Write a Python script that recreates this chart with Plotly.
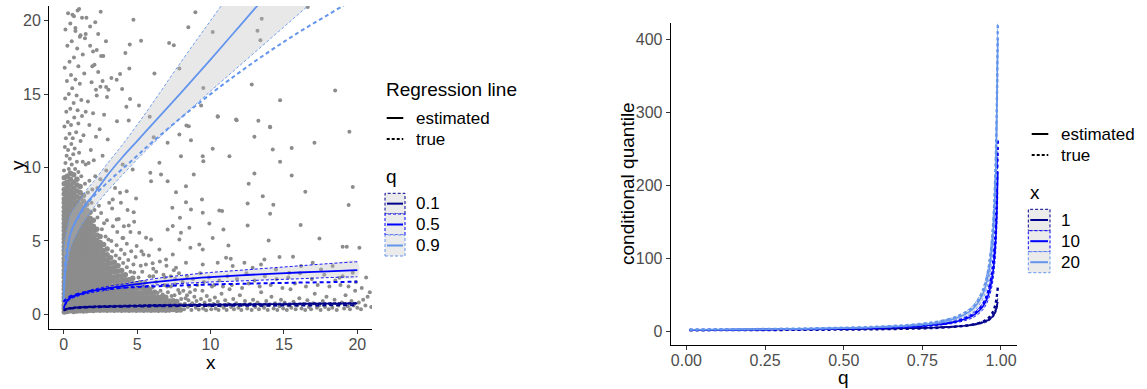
import plotly.graph_objects as go

W, H = 1147, 389
FONT = "Liberation Sans, Arial, sans-serif"
NAVY, BLUE, CORN = "#00008B", "#0000FF", "#6495ED"
BAND_FILL = "rgba(190,190,190,0.35)"
POINT_COLOR = "#8C8C8C"

# ---------------- left panel: data cloud ----------------
# dense part of the cloud, one column of y values per x position
point_columns = [
    (0.04, [0.15,0.4,0.62,0.9,1.15,1.4,1.7,1.95,2.2,2.5,2.75,3.0,3.3,3.55,3.8,4.1,4.35,4.6,4.9,5.15,5.4,5.7,5.95,6.2,6.5,6.75,7.0,7.3,7.6,7.85,8.2,8.5,8.9,9.3]),
    (0.24, [0.2,0.45,0.7,0.95,1.2,1.5,1.75,2.0,2.3,2.55,2.8,3.1,3.35,3.6,3.9,4.15,4.4,4.7,4.95,5.2,5.5,5.75,6.0,6.3,6.55,6.8,7.1,7.4,7.7,8.0,8.3,8.65,9.0,9.4]),
    (0.46, [0.25,0.5,0.78,1.05,1.3,1.55,1.85,2.1,2.4,2.65,2.9,3.2,3.45,3.7,4.0,4.25,4.5,4.8,5.05,5.3,5.6,5.85,6.1,6.4,6.65,6.9,7.2,7.5,7.8,8.1,8.45,8.8,9.2,9.6]),
    (0.68, [0.2,0.48,0.75,1.0,1.25,1.5,1.8,2.05,2.35,2.6,2.85,3.15,3.4,3.65,3.95,4.2,4.45,4.75,5.0,5.25,5.55,5.8,6.05,6.35,6.6,6.9,7.2,7.55,7.9,8.25,8.6,9.0,9.5]),
    (0.90, [0.22,0.5,0.78,1.02,1.3,1.55,1.82,2.1,2.38,2.62,2.9,3.18,3.42,3.7,3.98,4.22,4.5,4.78,5.02,5.3,5.58,5.85,6.12,6.4,6.7,7.0,7.3,7.65,8.0,8.4,8.8,9.2]),
    (1.12, [0.25,0.52,0.8,1.05,1.32,1.6,1.88,2.15,2.42,2.7,2.95,3.22,3.5,3.78,4.05,4.32,4.6,4.88,5.15,5.42,5.7,5.98,6.25,6.55,6.85,7.15,7.5,7.9,8.3,8.7]),
    (1.35, [0.22,0.5,0.78,1.05,1.32,1.6,1.88,2.15,2.42,2.7,2.98,3.25,3.52,3.8,4.08,4.35,4.62,4.9,5.18,5.45,5.72,6.0,6.3,6.6,6.95,7.3,7.7,8.1]),
    (1.57, [0.25,0.52,0.8,1.08,1.35,1.62,1.9,2.18,2.45,2.72,3.0,3.28,3.55,3.82,4.1,4.38,4.65,4.92,5.2,5.48,5.78,6.1,6.4,6.75,7.1,7.5]),
    (1.80, [0.28,0.55,0.82,1.1,1.38,1.65,1.92,2.2,2.48,2.75,3.02,3.3,3.58,3.85,4.12,4.4,4.68,4.95,5.25,5.55,5.85,6.2,6.55,6.95]),
    (2.02, [0.26,0.55,0.82,1.1,1.38,1.65,1.92,2.2,2.48,2.75,3.02,3.3,3.58,3.85,4.12,4.4,4.7,5.0,5.3,5.65,6.0,6.4]),
    (2.25, [0.3,0.58,0.85,1.12,1.4,1.68,1.95,2.22,2.5,2.78,3.05,3.32,3.6,3.88,4.15,4.45,4.75,5.05,5.4,5.8]),
    (2.48, [0.28,0.55,0.82,1.1,1.38,1.65,1.92,2.2,2.48,2.75,3.02,3.3,3.6,3.9,4.2,4.55,4.9,5.3]),
    (2.72, [0.3,0.58,0.85,1.12,1.4,1.68,1.95,2.22,2.5,2.78,3.08,3.38,3.7,4.0,4.35,4.75]),
    (2.96, [0.28,0.55,0.82,1.1,1.38,1.65,1.92,2.2,2.48,2.78,3.08,3.4,3.72,4.05,4.45]),
    (3.20, [0.3,0.58,0.85,1.12,1.4,1.68,1.95,2.25,2.55,2.85,3.15,3.5,3.85]),
    (3.45, [0.28,0.55,0.82,1.1,1.38,1.65,1.95,2.25,2.55,2.88,3.2,3.55]),
    (3.70, [0.3,0.58,0.85,1.12,1.4,1.7,2.0,2.3,2.62,2.95,3.3]),
    (3.95, [0.28,0.55,0.82,1.1,1.38,1.68,1.98,2.3,2.62,2.98]),
    (4.20, [0.3,0.58,0.85,1.12,1.42,1.72,2.02,2.35,2.7]),
    (4.45, [0.28,0.55,0.82,1.1,1.4,1.7,2.02,2.36]),
    (4.70, [0.3,0.58,0.85,1.14,1.44,1.75,2.08,2.45]),
    (4.95, [0.28,0.55,0.84,1.12,1.42,1.74,2.08]),
    (5.20, [0.3,0.58,0.86,1.15,1.46,1.8,2.15]),
    (5.45, [0.28,0.56,0.84,1.12,1.42,1.75]),
    (5.70, [0.3,0.58,0.86,1.15,1.48,1.82]),
    (5.95, [0.28,0.56,0.84,1.14,1.45]),
    (6.20, [0.3,0.58,0.87,1.17,1.5]),
    (6.45, [0.28,0.56,0.85,1.15]),
    (6.70, [0.3,0.6,0.9,1.2]),
    (6.95, [0.28,0.57,0.86,1.17]),
    (7.20, [0.3,0.6,0.9]),
    (7.45, [0.32,0.62,0.92]),
    (7.70, [0.28,0.58,0.88]),
    (7.95, [0.3,0.62]),
]

# scattered observations outside the dense core
loose_points = [
    # upper tail near x = 0
    (0.02,9.8),(0.12,10.3),(0.35,9.9),(0.55,10.2),(0.78,9.9),(1.0,9.7),(0.2,10.8),(0.42,10.6),(0.65,10.9),(0.9,10.4),
    (1.2,9.4),(1.45,8.9),(0.08,11.4),(0.3,11.2),(0.52,11.6),(0.75,11.3),(1.05,11.0),(1.3,10.4),(0.15,12.0),(0.4,12.3),
    (0.62,12.0),(0.85,12.4),(1.15,11.8),(1.5,10.2),(0.05,12.8),(0.28,13.1),(0.5,12.9),(0.72,13.4),(1.0,13.0),(1.35,12.2),
    (0.18,13.8),(0.45,14.0),(0.68,14.4),(0.95,13.9),(1.25,13.5),(0.1,14.7),(0.35,15.0),(0.58,15.4),(0.88,14.9),(1.2,14.6),
    (1.5,13.8),(0.22,15.9),(0.5,16.3),(0.8,16.0),(1.1,15.7),(0.07,16.8),(0.4,17.2),(0.7,17.5),(1.0,16.9),(1.4,16.4),
    (0.25,18.3),(0.55,18.6),(0.92,18.1),(1.3,17.7),(0.12,19.4),(0.45,19.8),(0.8,19.3),(1.15,19.0),(0.3,20.5),(0.7,20.3),
    (1.05,20.8),(1.45,18.8),(1.55,20.2),(0.6,20.4),(0.95,20.7),(1.25,20.2),(1.1,18.9),(0.8,19.5),(1.5,19.1),
    # x between 1.6 and 3.2
    (1.65,8.3),(1.9,7.6),(1.75,9.1),(2.1,7.1),(2.3,6.6),(1.95,8.5),(2.4,7.4),(2.6,5.8),(2.15,9.4),(1.7,10.3),
    (2.55,6.9),(2.85,5.3),(3.05,5.1),(2.75,6.2),(1.85,11.2),(2.05,10.5),(2.3,8.6),(2.95,6.4),(2.5,9.2),(2.2,12.1),
    (1.75,12.9),(2.65,10.8),(3.1,7.6),(2.0,13.7),(2.45,12.6),(2.9,9.8),(1.65,14.5),(2.25,14.9),(2.75,13.6),(3.0,11.9),
    (1.9,15.8),(2.5,15.5),(2.95,14.8),(2.1,17.0),(2.55,17.6),(2.88,18.6),(2.35,19.1),(2.52,20.6),(1.8,18.3),(2.15,19.9),
    (1.8,19.6),(2.25,18.0),(2.0,17.9),(2.7,17.6),(2.35,16.5),(1.95,16.9),(2.65,15.9),(2.2,15.3),(2.89,15.49),(3.05,15.3),
    # x between 3.2 and 5
    (3.3,4.3),(3.55,4.0),(3.8,3.8),(4.05,3.5),(4.3,3.2),(4.55,2.9),(4.8,2.85),(3.25,5.0),(3.6,4.7),(3.9,4.4),
    (4.15,4.1),(4.4,3.7),(4.75,3.4),(3.35,6.0),(3.65,5.6),(4.0,5.2),(4.3,4.8),(4.6,4.3),(4.9,3.9),(3.3,7.2),
    (3.75,6.5),(4.1,6.0),(4.55,5.6),(3.5,8.6),(3.9,7.6),(4.35,7.1),(4.8,6.3),
    # x between 5 and 8, just above the core
    (5.1,2.5),(5.35,2.9),(5.55,2.2),(5.85,2.6),(6.05,1.85),(6.3,2.2),(6.6,1.6),(6.85,2.0),(7.1,1.5),(7.3,1.9),
    (7.55,1.3),(7.8,1.65),(8.0,1.05),(5.25,3.3),(6.9,2.5),(7.6,2.05),(6.1,2.6),
    # low band for x from 8 to 21
    (8.2,0.35),(8.25,0.72),(8.3,1.1),(8.45,0.5),(8.5,0.95),(8.6,1.5),(8.7,0.3),(8.75,0.75),(8.9,1.2),(9.0,0.45),
    (9.05,0.9),(9.2,0.32),(9.25,0.65),(9.35,1.05),(9.45,1.6),(9.5,0.4),(9.6,0.8),(9.7,0.28),(9.75,1.25),(9.85,0.6),
    (9.95,0.95),(10.05,0.35),(10.1,1.9),(10.2,0.7),(10.3,1.15),(10.35,0.4),(10.5,0.85),(10.55,0.3),(10.7,0.6),(10.75,1.4),
    (10.9,0.45),(11.0,0.95),(11.1,0.3),(11.2,0.7),(11.3,1.7),(11.4,0.5),(11.55,1.05),(11.6,0.35),(11.75,0.75),(11.9,0.45),
    (12.0,1.3),(12.1,0.3),(12.2,0.65),(12.35,0.9),(12.5,0.4),(12.6,2.1),(12.7,0.7),(12.8,0.3),(12.9,1.0),(13.05,0.5),
    (13.2,0.8),(13.3,0.35),(13.45,1.5),(13.5,0.6),(13.65,0.45),(13.8,0.9),(13.9,0.3),(14.0,0.65),(14.15,1.2),(14.3,0.4),
    (14.4,0.75),(14.55,0.3),(14.7,0.55),(14.8,1.0),(14.95,0.4),(15.05,0.8),(15.2,0.3),(15.3,0.6),(15.45,1.7),(15.5,0.45),
    (15.65,0.85),(15.8,0.35),(15.9,0.6),(16.05,1.1),(16.2,0.4),(16.3,0.7),(16.45,0.3),(16.6,0.95),(16.7,0.5),(16.85,0.35),
    (17.0,0.75),(17.1,1.4),(17.25,0.45),(17.4,0.6),(17.5,0.3),(17.65,0.9),(17.8,0.5),(17.9,1.2),(18.05,0.35),(18.2,0.7),
    (18.3,0.45),(18.45,1.0),(18.6,0.3),(18.7,0.6),(18.85,2.0),(18.95,0.8),(19.1,0.4),(19.2,1.3),(19.35,0.55),(19.5,0.35),
    (19.6,0.9),(19.75,0.6),(19.85,1.6),(20.0,0.45),(20.1,0.8),(20.25,0.35),(20.4,1.0),(20.55,0.6),(20.7,1.2),(20.85,1.5),
    (20.95,0.5),
    # loose halo between y = 1.5 and 4.5
    (5.3,4.3),(5.6,3.4),(5.8,4.0),(6.1,3.1),(6.3,2.9),(6.55,3.6),(6.8,2.7),(7.0,3.3),(7.3,2.6),(7.5,3.0),
    (7.6,2.4),(7.85,2.8),(8.1,2.2),(8.4,2.6),(8.55,1.9),(8.8,2.4),(9.1,2.0),(9.3,2.8),(9.55,2.2),(9.9,2.5),
    (10.25,2.0),(10.6,2.3),(10.85,1.9),(11.15,2.6),(11.45,2.0),(11.8,2.4),(12.15,1.8),(12.45,2.8),(13.0,2.3),(13.35,1.9),
    (13.7,2.6),(14.1,2.0),(14.5,2.4),(14.9,1.8),(15.3,2.5),(15.75,2.1),(16.1,2.8),(16.5,1.9),(16.9,2.4),(17.3,2.0),
    (17.75,2.7),(18.1,1.9),(18.5,2.3),(19.0,2.6),(19.4,1.9),(19.9,2.2),(20.3,1.8),(20.6,2.5),
    (5.5,1.95),(5.9,1.7),(6.4,1.45),(6.75,1.35),(7.05,1.9),(7.35,1.25),(7.9,1.45),(8.15,1.6),(8.4,1.3),(8.95,1.65),
    # sparse outliers
    (8.97,20.57),(8.49,19.55),(10.15,19.23),(13.49,20.14),(13.2,19.32),(13.4,18.66),(16.62,20.93),(18.49,15.24),(14.74,14.58),(12.81,15.65),
    (9.51,15.42),(7.88,16.74),(6.18,16.4),(7.18,18.48),(7.5,18.32),(5.27,18.64),(4.75,20.07),(4.5,18.37),(4.47,16.74),(4.2,17.8),
    (3.84,16.36),(3.61,15.98),(3.98,15.35),(5.13,14.22),(4.27,14.13),(4.52,14.67),(4.43,13.2),(3.63,13.15),(3.25,16.1),(5.86,13.45),
    (8.36,12.86),(9.36,14.22),(10.5,13.45),(11.78,13.22),(13.26,13.18),(14.05,12.77),(10.15,11.27),(11.29,10.77),(12.99,12.09),(17.08,11.68),
    (19.46,12.43),(15.53,11.32),(14.24,11.22),(14.74,10.39),(15.53,9.46),(12.99,9.59),(12.6,8.89),(16.46,8.34),(19.69,8.68),(19.41,7.44),
    (13.56,8.05),(14.28,7.46),(14.06,6.85),(12.53,7.55),(12.53,6.05),(16.14,6.08),(17.42,5.17),(19.0,4.6),(20.14,4.54),(19.28,4.6),
    (15.62,3.92),(14.7,3.9),(13.67,3.74),(13.96,5.03),(11.22,4.69),(11.38,3.79),(9.92,6.19),(9.47,6.92),(9.42,7.82),(10.6,7.07),
    (10.79,7.03),(10.88,5.78),(10.15,5.19),(8.33,7.64),(7.65,8.32),(7.08,9.07),(6.63,9.52),(5.95,9.07),(5.9,9.64),(7.99,10.77),
    (7.08,11.68),(6.52,10.32),(6.13,12.06),(9.51,10.43),(9.47,10.77),(7.88,12.24),(8.52,12.81),(8.67,11.86),(8.86,9.52),(8.33,8.73),
    (7.4,7.26),(7.92,6.58),(8.67,7.14),(7.43,6.01),(7.99,5.56),(8.56,5.9),(7.08,5.78),(9.24,4.76),(9.47,4.42),(8.63,4.54),
    (7.88,5.1),(7.43,4.08),(6.52,4.42),(5.95,5.1),(5.61,5.22),(5.15,5.56),(4.77,6.96),(4.93,7.89),(4.29,8.39),(4.7,9.86),
    (4.02,10.2),(3.84,8.28),(3.34,7.82),(3.61,6.46),(4.43,6.05),(4.06,5.19),(4.97,4.65),(5.43,4.08),(6.06,3.47),(6.97,3.74),
    (7.65,3.17),(8.33,3.51),(9.47,3.4),(10.49,3.51),(11.06,3.85),(11.51,3.29),(12.31,3.51),(12.87,3.17),(13.44,3.4),(14.46,3.06),
    (15.37,2.83),(16.17,3.29),(16.96,3.51),(17.53,3.06),(18.32,3.29),(18.78,2.49),(19.69,2.83),(10.49,13.49),(11.74,13.27),(14.06,12.74),
]

core_x = [cx for cx, ys in point_columns for _ in ys]
core_y = [y for _, ys in point_columns for y in ys]
loose_x = [p[0] for p in loose_points]
loose_y = [p[1] for p in loose_points]

# ---------------- left panel: quantile regression curves ----------------
reg_x = [0, 0.1, 0.25, 0.5, 1, 1.5, 2, 3, 4, 5, 6, 8, 10, 12, 14, 16, 18, 20]

q90_est   = [1.2, 3.0, 4.3, 5.6, 6.7, 7.5, 8.1, 9.5, 10.7, 11.8, 12.9, 15.1, 17.35, 19.65, 21.95, 24.25, 26.55, 28.85]
q90_upper = [4.4, 5.2, 5.9, 6.9, 7.6, 8.4, 9.0, 10.3, 11.55, 12.9, 14.3, 17.2, 20.0, 22.8, 25.6, 28.4, 31.2, 34.0]
q90_lower = [0.9, 2.4, 3.5, 4.6, 5.7, 6.5, 7.2, 8.4, 9.5, 10.55, 11.55, 13.4, 15.2, 16.95, 18.7, 20.45, 22.2, 23.95]
q90_true  = [0.9, 3.6, 4.6, 5.6, 6.6, 7.4, 8.0, 9.0, 9.9, 10.8, 11.7, 13.4, 15.0, 16.5, 17.9, 19.2, 20.4, 21.6]

q50_est   = [0.4, 0.7, 0.95, 1.15, 1.32, 1.48, 1.6, 1.78, 1.92, 2.05, 2.17, 2.38, 2.53, 2.65, 2.76, 2.85, 2.93, 3.01]
q50_upper = [0.9, 1.0, 1.08, 1.22, 1.4, 1.55, 1.7, 1.9, 2.05, 2.23, 2.4, 2.65, 2.85, 3.0, 3.15, 3.3, 3.45, 3.58]
q50_lower = [0.3, 0.55, 0.85, 1.05, 1.25, 1.38, 1.5, 1.65, 1.8, 1.9, 1.98, 2.1, 2.2, 2.27, 2.35, 2.42, 2.5, 2.56]
q50_true  = [0.85, 0.98, 1.1, 1.25, 1.4, 1.52, 1.62, 1.72, 1.8, 1.86, 1.9, 1.97, 2.03, 2.08, 2.12, 2.16, 2.19, 2.22]

q10_est   = [0.28, 0.33, 0.38, 0.42, 0.47, 0.5, 0.52, 0.54, 0.56, 0.58, 0.6, 0.63, 0.65, 0.67, 0.69, 0.71, 0.73, 0.75]
q10_upper = [0.33, 0.38, 0.43, 0.47, 0.52, 0.55, 0.57, 0.6, 0.62, 0.64, 0.66, 0.69, 0.71, 0.73, 0.75, 0.77, 0.79, 0.81]
q10_lower = [0.23, 0.28, 0.33, 0.37, 0.42, 0.45, 0.47, 0.49, 0.51, 0.53, 0.54, 0.57, 0.59, 0.61, 0.63, 0.65, 0.67, 0.69]
q10_true  = [0.25, 0.3, 0.35, 0.39, 0.44, 0.46, 0.48, 0.5, 0.52, 0.53, 0.54, 0.56, 0.57, 0.58, 0.59, 0.6, 0.61, 0.62]

# ---------------- right panel: conditional quantile curves ----------------
q_levels = [0.01, 0.1, 0.2, 0.3, 0.4, 0.5, 0.6, 0.7, 0.75, 0.8, 0.85, 0.9, 0.92, 0.94, 0.95, 0.96, 0.97, 0.975, 0.98, 0.985, 0.99]

x1_est   = [1.60, 1.71, 1.86, 2.04, 2.27, 2.58, 3.02, 3.69, 4.2, 4.9, 6.0, 7.97, 9.3, 11.4, 12.9, 15.1, 18.5, 21.0, 24.6, 30.1, 40]
x1_upper = [1.79, 1.92, 2.08, 2.28, 2.54, 2.89, 3.38, 4.13, 4.7, 5.49, 6.72, 8.93, 10.4, 12.8, 14.4, 16.9, 20.7, 23.5, 27.6, 33.7, 44.8]
x1_lower = [1.44, 1.54, 1.67, 1.84, 2.04, 2.32, 2.72, 3.32, 3.78, 4.41, 5.4, 7.17, 8.37, 10.3, 11.6, 13.6, 16.7, 18.9, 22.1, 27.1, 36]
x1_true  = [1.08, 1.17, 1.3, 1.46, 1.67, 1.96, 2.38, 3.06, 3.59, 4.37, 5.62, 8.0, 9.73, 12.5, 14.7, 17.8, 23.0, 26.9, 32.8, 42.1, 60]

x10_est   = [1.63, 1.81, 2.05, 2.37, 2.79, 3.39, 4.29, 5.83, 7.08, 8.97, 12.2, 18.8, 23.8, 32.2, 39.2, 49.8, 67.6, 82, 104, 141, 218]
x10_upper = [1.87, 2.08, 2.36, 2.73, 3.21, 3.9, 4.93, 6.7, 8.14, 10.3, 14.0, 21.6, 27.4, 37.0, 45.1, 57.3, 77.7, 94.3, 120, 162, 251]
x10_lower = [1.42, 1.57, 1.78, 2.06, 2.43, 2.95, 3.73, 5.07, 6.16, 7.8, 10.6, 16.4, 20.7, 28.0, 34.1, 43.3, 58.8, 71.3, 90.5, 123, 190]
x10_true  = [1.5, 1.68, 1.91, 2.22, 2.64, 3.24, 4.17, 5.75, 7.06, 9.07, 12.5, 19.7, 25.4, 35.0, 42.9, 55.1, 76.1, 93.4, 120, 166, 262]

x20_est   = [1.77, 1.98, 2.28, 2.67, 3.2, 3.97, 5.16, 7.25, 8.99, 11.7, 16.4, 26.5, 34.5, 48.5, 60, 78, 110, 136, 177, 249, 402]
x20_upper = [2.04, 2.28, 2.62, 3.07, 3.68, 4.57, 5.93, 8.34, 10.3, 13.5, 18.9, 30.5, 39.7, 55.8, 69, 89.7, 127, 156, 204, 286, 462]
x20_lower = [1.54, 1.72, 1.98, 2.32, 2.78, 3.45, 4.49, 6.31, 7.82, 10.2, 14.3, 23.1, 30.0, 42.2, 52.2, 67.9, 95.7, 118, 154, 217, 350]
x20_true  = [2.0, 2.25, 2.58, 3.01, 3.61, 4.46, 5.78, 8.08, 9.99, 12.95, 18.1, 29.0, 37.6, 52.6, 65.0, 84.3, 118, 146, 189, 264, 423]

# axis ticks
left_x_ticks = [0, 5, 10, 15, 20]
left_y_ticks = [0, 5, 10, 15, 20]
right_x_ticks = [0, 0.25, 0.5, 0.75, 1.0]
right_x_labels = ["0.00", "0.25", "0.50", "0.75", "1.00"]
right_y_ticks = [0, 100, 200, 300, 400]


def fx(px):
    return px / W


def fy(py):
    return 1 - py / H


fig = go.Figure()

# the core is drawn with slightly larger dots so that it reads as a solid mass
fig.add_trace(go.Scatter(
    x=core_x, y=core_y, mode="markers", xaxis="x", yaxis="y",
    marker=dict(size=5.5, color=POINT_COLOR, line=dict(width=0)),
    hoverinfo="skip",
))
fig.add_trace(go.Scatter(
    x=loose_x, y=loose_y, mode="markers", xaxis="x", yaxis="y",
    marker=dict(size=4, color=POINT_COLOR, line=dict(width=0)),
    hoverinfo="skip",
))


def add_curve_group(xs, est, lo, hi, true, color, xa, ya, est_w, true_w, true_dash):
    fig.add_trace(go.Scatter(
        x=list(xs) + list(xs)[::-1], y=list(hi) + list(lo)[::-1],
        fill="toself", fillcolor=BAND_FILL, mode="lines", line=dict(width=0, shape="spline"),
        xaxis=xa, yaxis=ya, hoverinfo="skip",
    ))
    for bound in (lo, hi):
        fig.add_trace(go.Scatter(
            x=xs, y=bound, mode="lines", xaxis=xa, yaxis=ya, hoverinfo="skip",
            line=dict(color=color, width=0.9, dash="3px,2px", shape="spline"),
        ))
    fig.add_trace(go.Scatter(
        x=xs, y=true, mode="lines", xaxis=xa, yaxis=ya, hoverinfo="skip",
        line=dict(color=color, width=true_w, dash=true_dash, shape="spline"),
    ))
    fig.add_trace(go.Scatter(
        x=xs, y=est, mode="lines", xaxis=xa, yaxis=ya, hoverinfo="skip",
        line=dict(color=color, width=est_w, shape="spline"),
    ))


add_curve_group(reg_x, q90_est, q90_lower, q90_upper, q90_true, CORN, "x", "y", 1.8, 2.0, "4px,3px")
add_curve_group(reg_x, q50_est, q50_lower, q50_upper, q50_true, BLUE, "x", "y", 1.8, 2.0, "4px,3px")
add_curve_group(reg_x, q10_est, q10_lower, q10_upper, q10_true, NAVY, "x", "y", 1.8, 2.0, "4px,3px")

add_curve_group(q_levels, x1_est, x1_lower, x1_upper, x1_true, NAVY, "x2", "y2", 1.6, 2.4, "3px,3px")
add_curve_group(q_levels, x10_est, x10_lower, x10_upper, x10_true, BLUE, "x2", "y2", 1.6, 2.4, "3px,3px")
add_curve_group(q_levels, x20_est, x20_lower, x20_upper, x20_true, CORN, "x2", "y2", 1.6, 2.4, "3px,3px")

axis_common = dict(
    showgrid=False, zeroline=False, showline=True, linecolor="black", linewidth=1,
    ticks="outside", ticklen=4, tickwidth=1, tickcolor="#333333",
    tickfont=dict(family=FONT, size=16, color="#4D4D4D"), automargin=False,
)

fig.update_layout(
    width=W, height=H, margin=dict(l=0, r=0, t=0, b=0),
    paper_bgcolor="white", plot_bgcolor="white", showlegend=False,
    font=dict(family=FONT),
    xaxis=dict(domain=[fx(49), fx(372)], range=[-1, 21], tickvals=left_x_ticks, anchor="y",
               ticklabelstandoff=-3, **axis_common),
    yaxis=dict(domain=[fy(329), fy(6)], range=[-1, 21], tickvals=left_y_ticks, anchor="x", **axis_common),
    xaxis2=dict(domain=[fx(670.7), fx(1016.7)], range=[-0.05, 1.05], tickvals=right_x_ticks,
                ticktext=right_x_labels, anchor="y2", ticklabelstandoff=-3, **axis_common),
    yaxis2=dict(domain=[fy(345), fy(22.7)], range=[-19.2, 423], tickvals=right_y_ticks, anchor="x2", **axis_common),
)

annotations = []


def text(px, py, s, size=17, anchor="left", angle=0):
    annotations.append(dict(
        x=fx(px), y=fy(py), xref="paper", yref="paper", text=s, showarrow=False,
        xanchor=anchor, yanchor="middle", textangle=angle,
        font=dict(family=FONT, size=size, color="black"),
    ))


# axis titles
text(17, 165, "y", 19, "center", -90)
text(210.5, 362, "x", 19, "center")
text(627, 184, "conditional quantile", 19, "center", -90)
text(843.7, 377, "q", 19, "center")

# legend texts
text(384, 89, "Regression line", 19)
text(414, 118, "estimated")
text(414, 139, "true")
text(384, 177, "q", 19)
for py, lab in [(203.5, "0.1"), (224.5, "0.5"), (245.5, "0.9")]:
    text(414, py, lab)

text(1059, 134, "estimated")
text(1059, 155, "true")
text(1028, 192, "x", 19)
for py, lab in [(220, "1"), (241, "10"), (262, "20")]:
    text(1059, py, lab)

shapes = []


def hline(x0, x1, py, color, width=2, dash="solid"):
    shapes.append(dict(type="line", xref="paper", yref="paper", x0=fx(x0), x1=fx(x1), y0=fy(py), y1=fy(py),
                       line=dict(color=color, width=width, dash=dash)))


def key_box(x0, x1, y0, y1, color):
    shapes.append(dict(type="rect", xref="paper", yref="paper", x0=fx(x0), x1=fx(x1), y0=fy(y1), y1=fy(y0),
                       fillcolor="#EBEBEB", line=dict(color=color, width=1, dash="3px,2px")))
    hline(x0 + 2, x1 - 2, (y0 + y1) / 2, color, 2)


hline(386.7, 403.3, 118, "black", 2)
hline(386.7, 403.3, 139, "black", 2, "3px,2px")
key_box(385, 405, 193.3, 214, NAVY)
key_box(385, 405, 214, 235, BLUE)
key_box(385, 405, 235, 256, CORN)

hline(1031.7, 1048.3, 134, "black", 2)
hline(1031.7, 1048.3, 155, "black", 2, "3px,2px")
key_box(1028.3, 1050, 209.3, 230.7, NAVY)
key_box(1028.3, 1050, 230.7, 251.7, BLUE)
key_box(1028.3, 1050, 251.7, 272.7, CORN)

fig.update_layout(annotations=annotations, shapes=shapes)

fig.write_html("out.html")
